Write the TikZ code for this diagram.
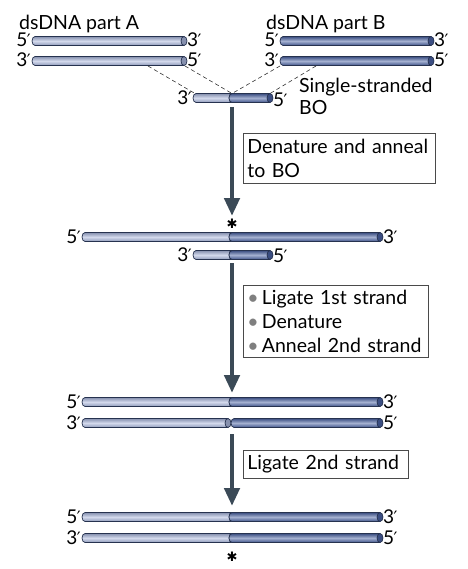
\documentclass[tikz,border=0pt]{standalone}
\usepackage{fontspec}
\setmainfont{Lato}
\newfontfamily\primefont{DejaVu Sans}
\newfontfamily\starfont{DejaVu Sans}
\usetikzlibrary{arrows.meta}
\definecolor{lightdna}{HTML}{A7B4DA}
\definecolor{darkdna}{HTML}{4A62A2}
\definecolor{dnaline}{HTML}{26324F}
\definecolor{arrowcol}{HTML}{3B4A57}
\definecolor{bulletgray}{HTML}{7F7F7F}
\definecolor{boxline}{HTML}{4A4A4A}
\newcommand\dnaseg[4]{%
  \path[draw=dnaline, line width=0.7pt, top color=#4!80!black, bottom color=#4!85!black, middle color=#4!50!white]
    (#1+3,#3-4.5) arc[start angle=90,end angle=270,x radius=3pt,y radius=4.5pt]
    -- (#2-3,#3+4.5) -- (#2-3,#3-4.5) -- cycle;
  \path[draw=dnaline, line width=0.7pt, fill=#4!80!black] (#2-3,#3) ellipse[x radius=3pt, y radius=4.5pt];
}
\newcommand\pr{{\primefont\fontsize{17}{17}\selectfont\kern-0.5pt′}}
\tikzset{
  lbl/.style={inner sep=0pt, font=\fontsize{19.5}{22}\selectfont},
  endl/.style={inner sep=0pt, anchor=base east, font=\fontsize{19}{20}\selectfont},
  endr/.style={inner sep=0pt, anchor=base west, font=\fontsize{19}{20}\selectfont},
  stepbox/.style={draw=boxline, line width=0.7pt, anchor=north west, inner xsep=4pt, inner ysep=0pt,
     align=left, font=\fontsize{19.5}{24}\selectfont},
  bigarrow/.style={draw=arrowcol, line width=4.5pt, -{Triangle[length=18pt,width=15pt]}},
  guide/.style={draw=black!80, line width=0.6pt, dash pattern=on 4pt off 3pt},
  starl/.style={inner sep=0pt, anchor=center, font=\starfont\fontsize{13}{13}\selectfont}
}
\newcommand\bult{{\color{bulletgray}\textbullet}\,}
\begin{document}
\begin{tikzpicture}[x=1pt, y=-1pt]
\useasboundingbox (0,0) rectangle (467,569);
% titles
\node[lbl, anchor=base west] (tA) at (19,30) {dsDNA part A};
\node[lbl, anchor=base west] (tB) at (266,30) {dsDNA part B};
% part A
\dnaseg{32}{187}{41}{lightdna}
\dnaseg{32}{187}{61}{lightdna}
\node[endl] (a1l) at (31,47) {5\pr};
\node[endr] (a1r) at (187,47) {3\pr};
\node[endl] (a2l) at (31,67) {3\pr};
\node[endr] (a2r) at (187,67) {5\pr};
% part B
\dnaseg{280}{434}{41}{darkdna}
\dnaseg{280}{434}{61}{darkdna}
\node[endl] (b1l) at (279,47) {5\pr};
\node[endr] (b1r) at (434,47) {3\pr};
\node[endl] (b2l) at (279,67) {3\pr};
\node[endr] (b2r) at (434,67) {5\pr};
% BO
\coordinate (gA1) at (148,66);
\coordinate (gA2) at (185,66);
\coordinate (gB1) at (280,66);
\coordinate (gB2) at (316,66);
\coordinate (boL) at (195,93.5);
\coordinate (boJ) at (232,93.5);
\coordinate (boR) at (270,93.5);
\draw[guide] (gA1) -- (boL);
\draw[guide] (gA2) -- (boJ);
\draw[guide] (gB1) -- (boJ);
\draw[guide] (gB2) -- (boR);
\dnaseg{193}{235}{98}{lightdna}
\dnaseg{229}{273}{98}{darkdna}
\node[endl] (bol) at (192,105) {3\pr};
\node[endr] (bor) at (273,107) {5\pr};
\node[lbl, anchor=base west] (ss) at (299,93) {Single-stranded};
\node[lbl, anchor=base west] (ssbo) at (299,115) {BO};
% arrow 1
\coordinate (ar1s) at (232,107);
\coordinate (ar1e) at (232,216);
\draw[bigarrow] (ar1s) -- (ar1e);
\node[stepbox, minimum width=192pt, minimum height=50pt, text width=184pt] (box1) at (243,133)
  {Denature and anneal\\to BO};
% row 3
\node[starl] (star1) at (232,224) {✱};
\dnaseg{82}{235}{237}{lightdna}
\dnaseg{229}{383}{237}{darkdna}
\node[endl] (r3l) at (81,243) {5\pr};
\node[endr] (r3r) at (383,243) {3\pr};
\dnaseg{193}{235}{255}{lightdna}
\dnaseg{229}{273}{255}{darkdna}
\node[endl] (r3sl) at (192,261) {3\pr};
\node[endr] (r3sr) at (273,262) {5\pr};
% arrow 2
\coordinate (ar2s) at (232,263);
\coordinate (ar2e) at (232,393);
\draw[bigarrow] (ar2s) -- (ar2e);
\node[stepbox, minimum width=185pt, minimum height=72pt, text width=177pt] (box2) at (243,285)
  {\bult Ligate 1st strand\\\bult Denature\\\bult Anneal 2nd strand};
% row 4
\dnaseg{82}{235}{402}{lightdna}
\dnaseg{229}{383}{402}{darkdna}
\node[endl] (r4l) at (81,408) {5\pr};
\node[endr] (r4r) at (383,408) {3\pr};
\dnaseg{82}{231}{423}{lightdna}
\dnaseg{231}{383}{423}{darkdna}
\node[endl] (r4bl) at (81,429) {3\pr};
\node[endr] (r4br) at (383,429) {5\pr};
% arrow 3
\coordinate (ar3s) at (232,434);
\coordinate (ar3e) at (232,506);
\draw[bigarrow] (ar3s) -- (ar3e);
\node[stepbox, minimum width=165pt, minimum height=28pt, text width=157pt] (box3) at (243,450)
  {Ligate 2nd strand};
% row 5
\dnaseg{82}{235}{517}{lightdna}
\dnaseg{229}{383}{517}{darkdna}
\node[endl] (r5l) at (81,523) {5\pr};
\node[endr] (r5r) at (383,523) {3\pr};
\dnaseg{82}{235}{538}{lightdna}
\dnaseg{229}{383}{538}{darkdna}
\node[endl] (r5bl) at (81,544) {3\pr};
\node[endr] (r5br) at (383,544) {5\pr};
\node[starl] (star2) at (232,557) {✱};
\end{tikzpicture}
\end{document}
